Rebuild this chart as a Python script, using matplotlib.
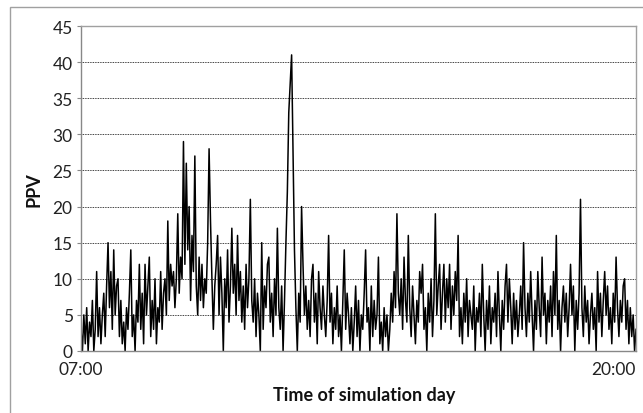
import numpy as np
import matplotlib
matplotlib.use("Agg")
import matplotlib.pyplot as plt
import matplotlib.transforms as mtransforms
from matplotlib.patches import Rectangle

# PPV every 2 minutes, 07:00 -> 20:00 (391 samples)
ppv = [
    3, 0, 5, 1, 6, 0, 4, 2, 7, 0, 3, 11, 2, 6, 1, 5, 8, 2, 9, 15,
    6, 11, 3, 14, 5, 9, 10, 2, 7, 1, 4, 0, 6, 3, 8, 14, 2, 5, 0, 7,
    4, 12, 3, 8, 1, 12, 5, 9, 13, 2, 7, 3, 10, 1, 6, 4, 11, 3, 8, 10,
    5, 18, 7, 12, 9, 11, 6, 10, 19, 8, 13, 10, 29, 12, 26, 14, 20, 7, 16, 11,
    27, 9, 5, 13, 7, 12, 6, 10, 8, 15, 28, 18, 10, 3, 9, 12, 16, 5, 13, 8,
    0, 10, 6, 14, 4, 9, 17, 8, 12, 5, 16, 7, 11, 4, 9, 3, 12, 6, 10, 21,
    7, 4, 10, 2, 8, 5, 0, 15, 3, 9, 6, 12, 13, 4, 8, 2, 10, 5, 17, 6,
    3, 9, 0, 7, 15, 22, 33, 37, 41, 28, 14, 6, 0, 8, 4, 20, 12, 5, 9, 3,
    7, 2, 10, 12, 4, 8, 1, 11, 6, 3, 9, 5, 2, 7, 16, 4, 8, 1, 6, 3,
    9, 2, 5, 0, 7, 14, 3, 8, 5, 1, 6, 0, 4, 9, 2, 7, 0, 5, 3, 8,
    14, 4, 6, 0, 9, 2, 7, 3, 5, 13, 1, 4, 0, 6, 2, 5, 0, 3, 8, 4,
    11, 6, 19, 8, 5, 10, 3, 13, 7, 4, 16, 6, 2, 9, 5, 1, 7, 4, 11, 8,
    12, 3, 6, 0, 8, 4, 10, 2, 7, 19, 5, 9, 12, 3, 8, 12, 4, 10, 6, 12,
    3, 9, 5, 11, 7, 16, 2, 6, 1, 8, 4, 10, 2, 7, 5, 3, 9, 0, 6, 4,
    8, 2, 12, 5, 0, 7, 3, 9, 1, 6, 4, 8, 2, 11, 5, 0, 7, 3, 9, 12,
    4, 10, 6, 1, 8, 3, 7, 2, 5, 9, 3, 15, 6, 2, 8, 4, 11, 5, 0, 7,
    3, 11, 6, 2, 13, 5, 8, 1, 7, 4, 9, 2, 11, 5, 16, 3, 7, 0, 6, 9,
    4, 8, 2, 6, 12, 5, 9, 0, 7, 3, 8, 21, 6, 2, 9, 4, 7, 1, 5, 8,
    3, 6, 0, 11, 4, 8, 2, 7, 11, 5, 9, 3, 6, 1, 8, 4, 13, 6, 2, 7,
    4, 9, 10, 3, 7, 1, 6, 2, 5, 0, 3,
]
xtick_labels = ["07:00", "20:00"]
yticks = [0, 5, 10, 15, 20, 25, 30, 35, 40, 45]

plt.rcParams["font.family"] = ["Lato", "DejaVu Sans"]
W, H = 643, 414
fig = plt.figure(figsize=(W / 100, H / 100), dpi=100)
ax = fig.add_axes([81 / W, 1 - 352 / H, 555 / W, 325 / H])

# outer chart border (cropped at right/bottom like the reference)
fig.patches.append(Rectangle((10 / W, -0.1), 2, 1 - 8 / H + 0.1, transform=fig.transFigure,
                             fill=False, edgecolor="#a0a0a0", lw=1))

x = np.arange(len(ppv))
ax.plot(x, ppv, color="black", lw=1.1)

ax.set_xlim(0, len(ppv) - 1)
ax.set_ylim(0, 45)
ax.set_yticks(yticks)
for v in yticks[1:-1]:
    ax.axhline(v, color="black", lw=0.6, ls=(0, (1, 1)), zorder=0)

ax.set_xticks([0, len(ppv) - 1])
ax.set_xticklabels(xtick_labels)
labs = ax.get_xticklabels()
labs[0].set_transform(labs[0].get_transform() + mtransforms.ScaledTranslation(4 / 100, 0, fig.dpi_scale_trans))
labs[1].set_ha("right")
labs[1].set_transform(labs[1].get_transform() + mtransforms.ScaledTranslation(7 / 100, 0, fig.dpi_scale_trans))
ax.tick_params(axis="x", length=0, pad=7, labelsize=12.5, colors="#222222")
ax.tick_params(axis="y", length=3, width=0.8, color="#888888", pad=3, labelsize=12.5, labelcolor="#222222")

for s in ["top", "right"]:
    ax.spines[s].set_color("#a0a0a0")
    ax.spines[s].set_linewidth(1)
for s in ["left", "bottom"]:
    ax.spines[s].set_color("#888888")
    ax.spines[s].set_linewidth(1)

fig.text(34 / W, 1 - 190 / H, "PPV", rotation=90, ha="center", va="center",
         fontsize=13, fontweight="bold", color="#111111")
fig.text(364 / W, 1 - 396 / H, "Time of simulation day", ha="center", va="center",
         fontsize=13, fontweight="bold", color="#111111")

fig.savefig("out.png", dpi=100)
